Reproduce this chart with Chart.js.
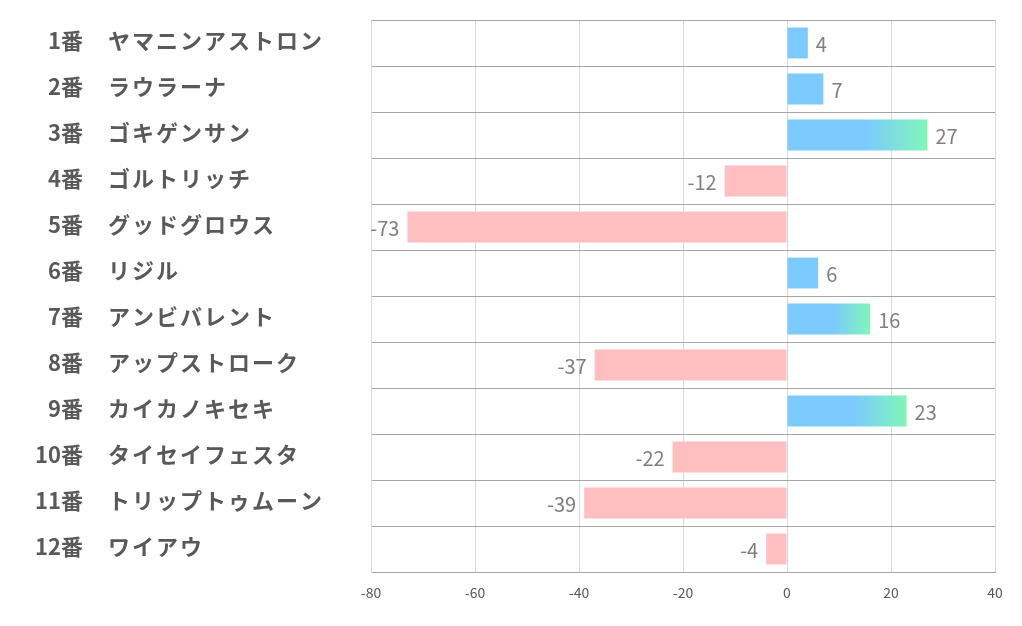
<!DOCTYPE html>
<html>
<head>
<meta charset="utf-8">
<script src="https://cdn.jsdelivr.net/npm/chart.js@4/dist/chart.umd.min.js"></script>
<style>
	html, body { margin: 0; padding: 0; background: #fff; }
	#wrap { width: 1022px; height: 626px; position: relative; }
</style>
</head>
<body>
<div id="wrap"><canvas id="chart"></canvas></div>
<script>
// horse numbers, names and scores, top row first
const numbers = ['1番', '2番', '3番', '4番', '5番', '6番', '7番', '8番', '9番', '10番', '11番', '12番'];
const names = ['ヤマニンアストロン', 'ラウラーナ', 'ゴキゲンサン', 'ゴルトリッチ', 'グッドグロウス', 'リジル',
	'アンビバレント', 'アップストローク', 'カイカノキセキ', 'タイセイフェスタ', 'トリップトゥムーン', 'ワイアウ'];
const scores = [4, 7, 27, -12, -73, 6, 16, -37, 23, -22, -39, -4];
const xTicks = [-80, -60, -40, -20, 0, 20, 40];

const FONT = '"Noto Sans CJK JP", "Noto Sans", sans-serif';
const BLUE = 'rgb(124, 202, 255)';
const GREEN = 'rgb(128, 246, 184)';
const PINK = 'rgb(255, 190, 192)';

// blue bar fading to green near its end, only for the longer bars
function barColor(ctx) {
	const v = ctx.raw;
	if (v < 0) return PINK;
	if (v < 10) return BLUE;
	const chart = ctx.chart;
	const x = chart.scales.x;
	if (!x || x.right === undefined) return BLUE;
	const x0 = x.getPixelForValue(0);
	const x1 = x.getPixelForValue(v);
	const g = chart.ctx.createLinearGradient(x0, 0, x1, 0);
	g.addColorStop(0, BLUE);
	g.addColorStop(0.55, BLUE);
	g.addColorStop(1, GREEN);
	return g;
}

const rowLabels = {
	id: 'rowLabels',
	afterDraw(chart) {
		const c = chart.ctx;
		const y = chart.scales.y;
		c.save();
		c.fillStyle = '#595959';
		c.textBaseline = 'middle';
		c.font = 'bold 22px ' + FONT;
		names.forEach((name, i) => {
			const py = y.getPixelForValue(i) - 2;
			c.textAlign = 'right';
			c.letterSpacing = '0px';
			c.fillText(numbers[i], 83, py);
			c.textAlign = 'left';
			c.letterSpacing = '2px';
			c.fillText(name, 108, py);
		});
		c.restore();
	}
};

const valueLabels = {
	id: 'valueLabels',
	afterDatasetsDraw(chart) {
		const c = chart.ctx;
		const meta = chart.getDatasetMeta(0);
		c.save();
		c.fillStyle = '#7f7f7f';
		c.font = '20px ' + FONT;
		c.textBaseline = 'middle';
		meta.data.forEach((bar, i) => {
			const v = scores[i];
			if (v >= 0) {
				c.textAlign = 'left';
				c.fillText(String(v), bar.x + 8, bar.y + 1);
			} else {
				c.textAlign = 'right';
				c.fillText(String(v), bar.x - 8, bar.y + 1);
			}
		});
		c.restore();
	}
};

new Chart(document.getElementById('chart'), {
	type: 'bar',
	data: {
		labels: names,
		datasets: [{
			data: scores,
			backgroundColor: barColor,
			borderWidth: 0,
			categoryPercentage: 1,
			barPercentage: 0.67,
		}]
	},
	options: {
		indexAxis: 'y',
		responsive: true,
		maintainAspectRatio: false,
		animation: false,
		events: [],
		layout: { padding: { left: 371, right: 27, top: 20, bottom: 0 } },
		plugins: {
			legend: { display: false },
			tooltip: { enabled: false },
		},
		scales: {
			x: {
				min: -80,
				max: 40,
				afterBuildTicks: (scale) => { scale.ticks = xTicks.map(v => ({ value: v })); },
				afterFit: (scale) => { scale.height = 54; },
				grid: { color: '#d9d9d9', lineWidth: 1, drawTicks: false },
				border: { color: '#a6a6a6' },
				ticks: {
					color: '#595959',
					font: { family: FONT, size: 14 },
					padding: 12,
				},
			},
			y: {
				afterFit: (scale) => { scale.width = 0; },
				grid: { color: '#a6a6a6', lineWidth: 1, drawTicks: false, offset: true },
				border: { color: '#d9d9d9' },
				ticks: { display: false },
			}
		}
	},
	plugins: [rowLabels, valueLabels]
});
</script>
</body>
</html>
